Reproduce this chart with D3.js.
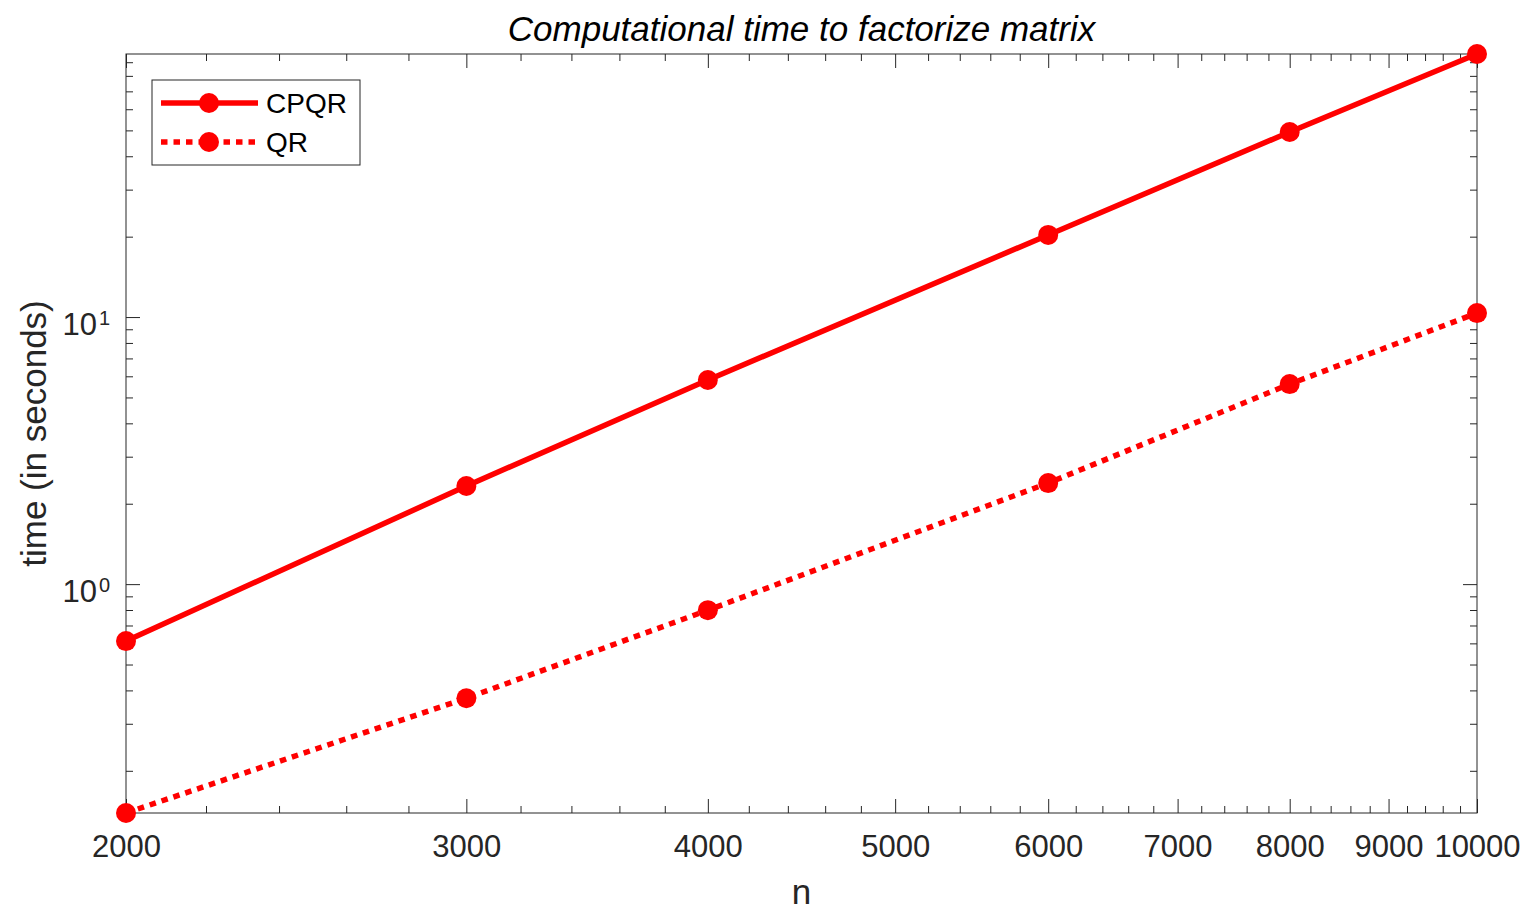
<!DOCTYPE html>
<html>
<head>
<meta charset="UTF-8">
<script src="https://d3js.org/d3.v7.min.js"></script>
<style>
  body { margin: 0; background: #fff; }
  svg text { font-family: "Liberation Sans", Arial, Helvetica, sans-serif; fill: #262626; }
</style>
</head>
<body>
<div id="chart"></div>
<script>
// matrix size n and factorization times (seconds)
const sizes = [2000, 3000, 4000, 6000, 8000, 10000];
const cpqrTime = [0.612, 2.33, 5.81, 20.3, 49.3, 96.6];
const qrTime = [0.139, 0.374, 0.799, 2.39, 5.61, 10.35];

const xMajor = [2000, 3000, 4000, 5000, 6000, 7000, 8000, 9000, 10000];
const yMajor = [1, 10];

const seriesNames = ["CPQR", "QR"];

const width = 1528, height = 910;
const margin = { left: 126, right: 51, top: 54, bottom: 97 };
const innerW = width - margin.left - margin.right;
const innerH = height - margin.top - margin.bottom;
const axisColor = "#262626";
const red = "#ff0000";

const svg = d3.select("#chart").append("svg")
    .attr("width", width)
    .attr("height", height);

const g = svg.append("g")
    .attr("transform", `translate(${margin.left},${margin.top})`);

const x = d3.scaleLog()
    .domain([sizes[0], sizes[sizes.length - 1]])
    .range([0, innerW]);

const y = d3.scaleLog()
    .domain([d3.min(qrTime), d3.max(cpqrTime)])
    .range([innerH, 0]);

// minor ticks every 200 on x, 2..9 per decade on y
const xMinor = d3.range(2200, 10000, 200).filter(v => v % 1000 !== 0);
const yMinor = [];
[0.1, 1, 10].forEach(d => {
    for (let k = 2; k <= 9; k++) {
        const v = +(d * k).toPrecision(3);
        if (v >= y.domain()[0] && v <= y.domain()[1]) yMinor.push(v);
    }
});

function styleAxis(sel) {
    sel.select(".domain").remove();
    sel.selectAll(".tick line").attr("stroke", axisColor).attr("stroke-width", 1);
}

// ticks, all pointing inward
const axes = [
    { gen: d3.axisBottom(x), pos: `translate(0,${innerH})`, major: xMajor, minor: xMinor, labels: true },
    { gen: d3.axisTop(x), pos: "translate(0,0)", major: xMajor, minor: xMinor, labels: false },
    { gen: d3.axisLeft(y), pos: "translate(0,0)", major: yMajor, minor: yMinor, labels: false },
    { gen: d3.axisRight(y), pos: `translate(${innerW},0)`, major: yMajor, minor: yMinor, labels: false }
];

axes.forEach(a => {
    g.append("g")
        .attr("transform", a.pos)
        .call(a.gen.tickValues(a.minor).tickSize(-7).tickFormat(""))
        .call(styleAxis);
    const maj = g.append("g")
        .attr("transform", a.pos)
        .call(a.gen.tickValues(a.major).tickSize(-14).tickFormat(a.labels ? d3.format("d") : ""))
        .call(styleAxis);
    if (a.labels) {
        maj.selectAll(".tick text")
            .attr("y", 22)
            .attr("dy", "0.71em")
            .style("font-size", "31px")
            .attr("fill", axisColor);
    }
});

// y tick labels as 10^k
const yLabels = g.append("g");
yMajor.forEach(v => {
    const t = yLabels.append("text")
        .attr("x", -16)
        .attr("y", y(v) + 18)
        .attr("text-anchor", "end")
        .style("font-size", "31px");
    t.append("tspan").text("10");
    t.append("tspan")
        .attr("dy", -10)
        .attr("dx", 2)
        .style("font-size", "20px")
        .text(Math.round(Math.log10(v)));
});

// box
g.append("rect")
    .attr("width", innerW)
    .attr("height", innerH)
    .attr("fill", "none")
    .attr("stroke", axisColor)
    .attr("stroke-width", 1);

// lines
const line = d3.line()
    .x(d => x(d[0]))
    .y(d => y(d[1]));

const series = [
    { name: seriesNames[0], values: cpqrTime, dash: null },
    { name: seriesNames[1], values: qrTime, dash: "6.5,6" }
];

series.forEach(s => {
    const pts = sizes.map((n, i) => [n, s.values[i]]);
    g.append("path")
        .datum(pts)
        .attr("d", line)
        .attr("fill", "none")
        .attr("stroke", red)
        .attr("stroke-width", 5.5)
        .attr("stroke-dasharray", s.dash);
    g.selectAll(null)
        .data(pts)
        .join("circle")
        .attr("cx", d => x(d[0]))
        .attr("cy", d => y(d[1]))
        .attr("r", 10)
        .attr("fill", red);
});

// title and axis labels
svg.append("text")
    .attr("x", margin.left + innerW / 2)
    .attr("y", 41)
    .attr("text-anchor", "middle")
    .style("font-size", "35px")
    .style("font-style", "italic")
    .style("fill", "#000")
    .text("Computational time to factorize matrix");

svg.append("text")
    .attr("x", margin.left + innerW / 2)
    .attr("y", 904)
    .attr("text-anchor", "middle")
    .style("font-size", "35px")
    .text("n");

svg.append("text")
    .attr("transform", `translate(46,${margin.top + innerH / 2}) rotate(-90)`)
    .attr("text-anchor", "middle")
    .style("font-size", "35px")
    .text("time (in seconds)");

// legend
const legend = svg.append("g").attr("transform", "translate(152,80)");
legend.append("rect")
    .attr("width", 208)
    .attr("height", 85)
    .attr("fill", "#fff")
    .attr("stroke", axisColor)
    .attr("stroke-width", 1);

series.forEach((s, i) => {
    const ly = 23 + i * 39;
    legend.append("line")
        .attr("x1", 9).attr("x2", 106)
        .attr("y1", ly).attr("y2", ly)
        .attr("stroke", red)
        .attr("stroke-width", 5.5)
        .attr("stroke-dasharray", s.dash);
    legend.append("circle")
        .attr("cx", 57).attr("cy", ly)
        .attr("r", 10)
        .attr("fill", red);
    legend.append("text")
        .attr("x", 114)
        .attr("y", ly + 10)
        .style("font-size", "28px")
        .style("fill", "#000")
        .text(s.name);
});
</script>
</body>
</html>
